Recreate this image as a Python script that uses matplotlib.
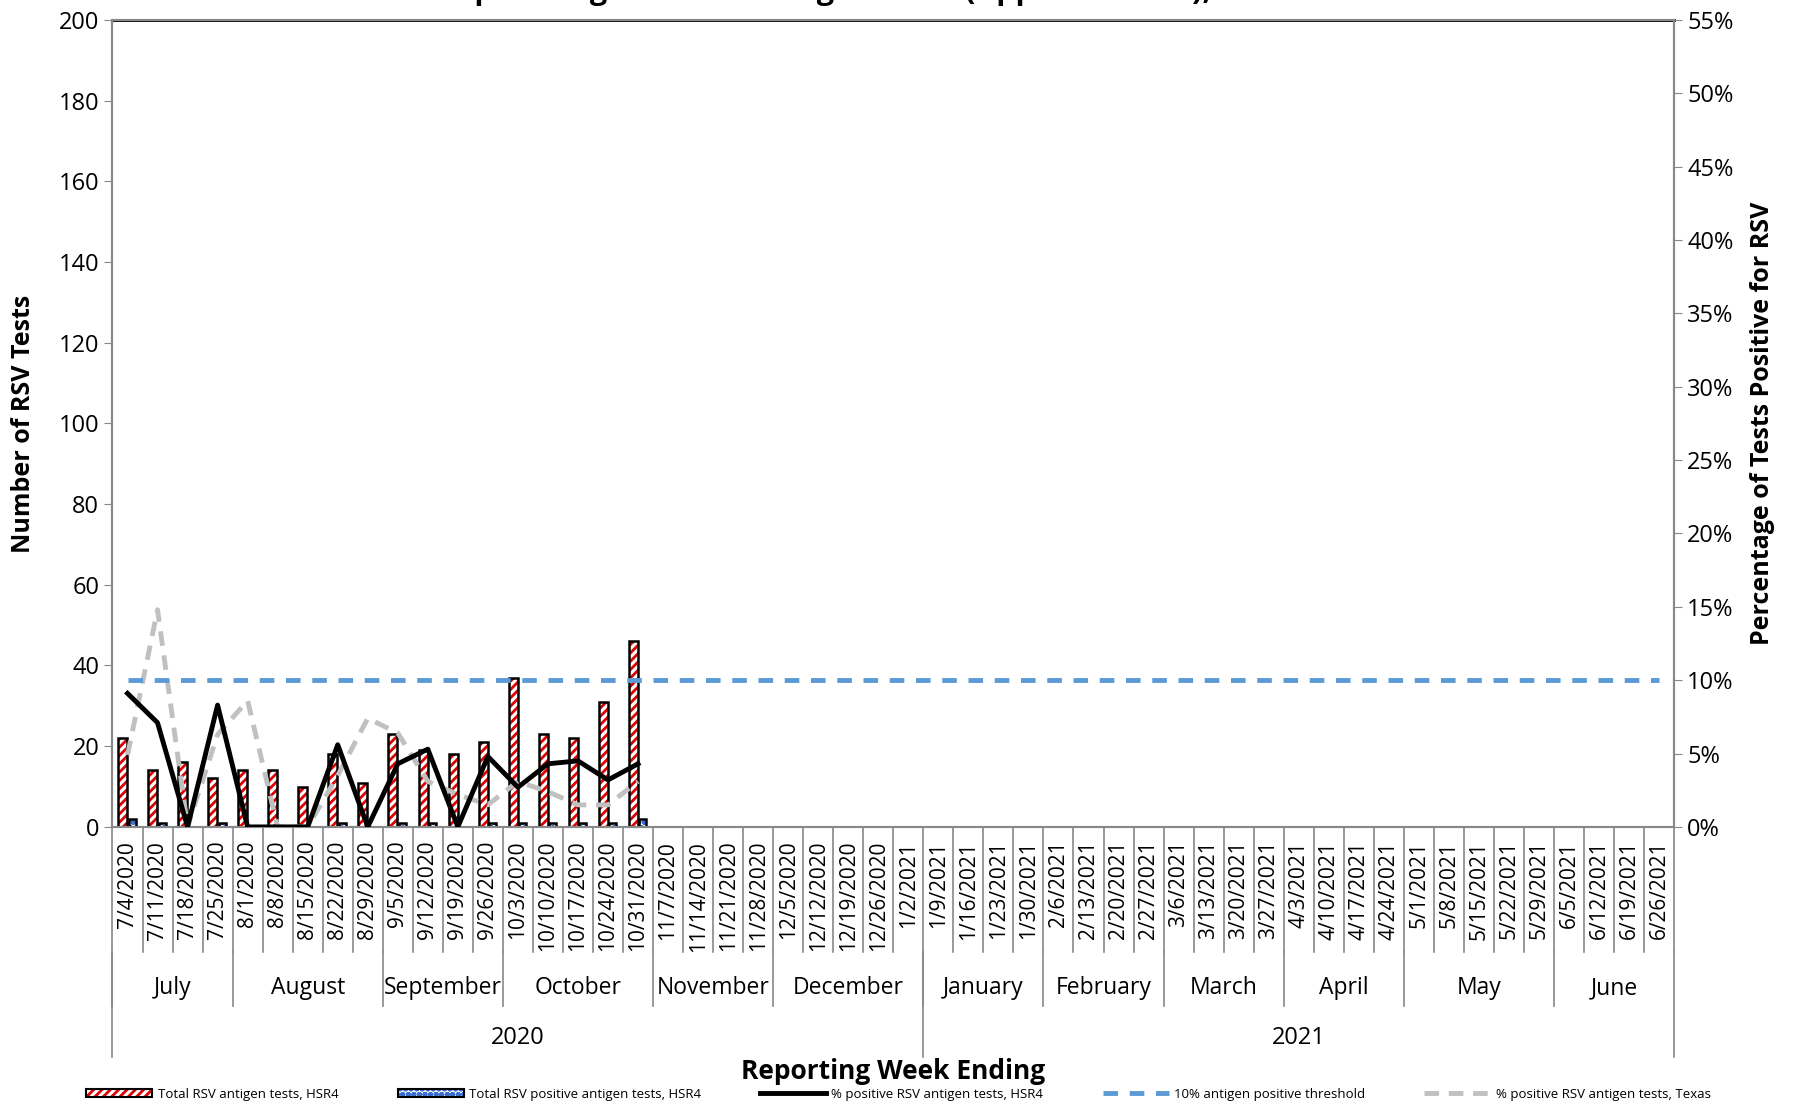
import matplotlib
matplotlib.use("Agg")
import matplotlib.pyplot as plt
from matplotlib.patches import Patch
from matplotlib.lines import Line2D
import numpy as np

weeks = ["7/4/2020","7/11/2020","7/18/2020","7/25/2020","8/1/2020","8/8/2020","8/15/2020","8/22/2020","8/29/2020",
         "9/5/2020","9/12/2020","9/19/2020","9/26/2020","10/3/2020","10/10/2020","10/17/2020","10/24/2020","10/31/2020",
         "11/7/2020","11/14/2020","11/21/2020","11/28/2020","12/5/2020","12/12/2020","12/19/2020","12/26/2020","1/2/2021",
         "1/9/2021","1/16/2021","1/23/2021","1/30/2021","2/6/2021","2/13/2021","2/20/2021","2/27/2021",
         "3/6/2021","3/13/2021","3/20/2021","3/27/2021","4/3/2021","4/10/2021","4/17/2021","4/24/2021",
         "5/1/2021","5/8/2021","5/15/2021","5/22/2021","5/29/2021","6/5/2021","6/12/2021","6/19/2021","6/26/2021"]
months = ["July","August","September","October","November","December","January","February","March","April","May","June"]
month_weeks = [4,5,4,5,4,5,4,4,4,4,5,4]
years = ["2020","2021"]
year_weeks = [27,25]

total_tests = [22,14,16,12,14,14,10,18,11,23,19,18,21,37,23,22,31,46]
positive_tests = [2,1,0,1,0,0,0,1,0,1,1,0,1,1,1,1,1,2]
pct_hsr4 = [9.1,7.1,0.0,8.3,0.0,0.0,0.0,5.6,0.0,4.3,5.3,0.0,4.8,2.7,4.3,4.5,3.2,4.3]
pct_texas = [4.9,14.8,0.0,6.3,8.6,0.0,0.0,3.5,7.4,6.4,3.1,2.2,1.5,3.1,2.4,1.5,1.5,3.1]
threshold = 10

plt.rcParams['font.family'] = ["Open Sans","DejaVu Sans"]
plt.rcParams['hatch.linewidth'] = 2.0

fig = plt.figure(figsize=(17.97,11.04), dpi=100)
ax = fig.add_axes([0.0626,0.251,0.869,0.731])
ax2 = ax.twinx()
n = len(weeks)
x = np.arange(len(total_tests))
rw, bw = 0.30, 0.24
ax.bar(x-0.16, total_tests, rw, facecolor="white", edgecolor="#e00000", hatch="////", linewidth=0, zorder=2)
ax.bar(x-0.16, total_tests, rw, fill=False, edgecolor="black", linewidth=1.8, zorder=3)
ax.bar(x+0.16, positive_tests, bw, facecolor="white", edgecolor="#3a6fd0", hatch="ooo", linewidth=0, zorder=2)
ax.bar(x+0.16, positive_tests, bw, fill=False, edgecolor="black", linewidth=1.8, zorder=3)

ax2.plot(x, pct_texas, color="#c0c0c0", lw=3.5, ls=(0,(3,2)), zorder=4)
ax2.plot(x, pct_hsr4, color="black", lw=3.5, zorder=5)
ax2.plot([0, n-1], [threshold, threshold], color="#5b9bd5", lw=3.5, ls=(0,(3,2.4)), zorder=4)

ax.set_xlim(-0.5, n-0.5)
ax.set_ylim(0,200)
ax.set_yticks(range(0,201,20))
ax2.set_ylim(0,55)
ax2.set_yticks(range(0,56,5))
ax2.set_yticklabels([f"{v}%" for v in range(0,56,5)])
ax.set_xticks(np.arange(n))
ax.set_xticklabels(weeks, rotation=90, fontsize=15)
ax.tick_params(axis='x', length=0, pad=10)
ax.tick_params(axis='y', labelsize=17, length=6, color="#888888")
ax2.tick_params(axis='y', labelsize=17, length=6, color="#888888")
for a in (ax, ax2):
    for s in a.spines.values():
        s.set_color("#888888"); s.set_linewidth(1.5)
ax.spines['top'].set_color("black"); ax.spines['top'].set_linewidth(2)
ax.set_ylabel("Number of RSV Tests", fontsize=18, fontweight="bold", labelpad=16)
ax2.set_ylabel("Percentage of Tests Positive for RSV", fontsize=18, fontweight="bold", labelpad=12)

trans = ax.get_xaxis_transform()
kw = dict(transform=trans, color="#888888", lw=1.2, clip_on=False)
for i in range(n+1):
    ax.plot([i-0.5,i-0.5],[0,-0.155], **kw)
pos = 0
for m, c in zip(months, month_weeks):
    ax.plot([pos-0.5,pos-0.5],[-0.155,-0.222], **kw)
    ax.text(pos-0.5+c/2, -0.2, m, transform=trans, ha="center", va="center", fontsize=16.5)
    pos += c
ax.plot([n-0.5,n-0.5],[-0.155,-0.285], **kw)
pos = 0
for y, c in zip(years, year_weeks):
    ax.plot([pos-0.5,pos-0.5],[-0.155,-0.285], **kw)
    ax.text(pos-0.5+c/2, -0.262, y, transform=trans, ha="center", va="center", fontsize=17)
    pos += c

fig.text(0.497, 0.029, "Reporting Week Ending", ha="center", va="center", fontsize=19, fontweight="bold")
fig.text(0.497, 1.008, "Hospital Region 4 RSV Antigen Tests (Approximated), 2020-2021", ha="center", va="center", fontsize=22, fontweight="bold")

handles = [
    (Patch(facecolor="white", edgecolor="#e00000", hatch="////", lw=0), Patch(fill=False, edgecolor="black", lw=1.5)),
    (Patch(facecolor="white", edgecolor="#3a6fd0", hatch="ooo", lw=0), Patch(fill=False, edgecolor="black", lw=1.5)),
    Line2D([],[],color="black",lw=3.5),
    Line2D([],[],color="#5b9bd5",lw=3.5,ls=(0,(3,2.4))),
    Line2D([],[],color="#c0c0c0",lw=3.5,ls=(0,(3,2))),
]
labels = ["Total RSV antigen tests, HSR4","Total RSV positive antigen tests, HSR4","% positive RSV antigen tests, HSR4",
          "10% antigen positive threshold","% positive RSV antigen tests, Texas"]
fig.legend(handles, labels, loc="center", bbox_to_anchor=(0.5,0.009), ncol=5, frameon=False, fontsize=9.5,
           handlelength=5, columnspacing=4.5, handleheight=0.6, handletextpad=0.4)
fig.savefig("out.png", dpi=100)
